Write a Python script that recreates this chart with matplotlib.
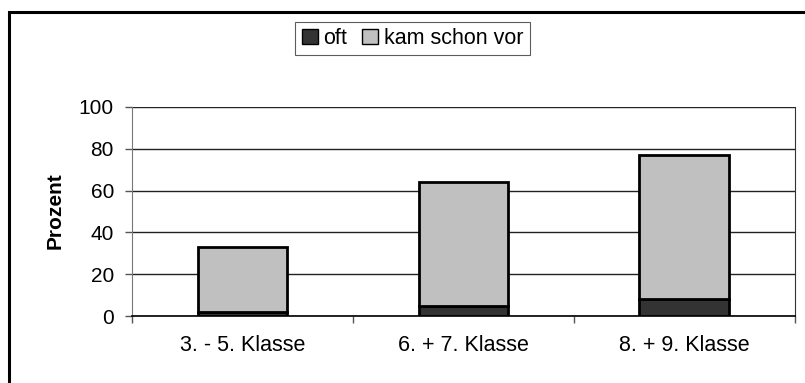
import matplotlib.pyplot as plt
from matplotlib.patches import Rectangle, Patch

plt.rcParams['font.family'] = ['Liberation Sans', 'DejaVu Sans']

categories = ['3. - 5. Klasse', '6. + 7. Klasse', '8. + 9. Klasse']
oft = [2, 5, 8]
kam_schon_vor = [31, 59, 69]
y_ticks = [0, 20, 40, 60, 80, 100]

W, H = 805, 383
FS = 15.5
fig = plt.figure(figsize=(W / 100, H / 100), dpi=100)
fig.patch.set_facecolor('white')

# plot area in pixel coordinates
left, right, top, bottom = 132, 794.5, 107, 316
ax = fig.add_axes([left / W, 1 - bottom / H, (right - left) / W, (bottom - top) / H])

x = range(len(categories))
bw = 0.405
ax.bar(x, oft, width=bw, color='#333333', edgecolor='black', linewidth=2, zorder=3)
ax.bar(x, kam_schon_vor, bottom=oft, width=bw, color='#c0c0c0', edgecolor='black',
       linewidth=2, zorder=3)

ax.set_xlim(-0.5, len(categories) - 0.5)
ax.set_ylim(0, 100)
ax.set_yticks(y_ticks)
ax.set_yticklabels([str(v) for v in y_ticks], fontsize=FS - 0.5)
ax.yaxis.grid(True, color='#222222', linewidth=1.0, zorder=0)

# category labels centred, ticks on category boundaries
ax.set_xticks(list(x))
ax.set_xticklabels(categories, fontsize=FS)
ax.tick_params(axis='x', length=0, pad=14)
ax.set_xticks([i + 0.5 for i in range(-1, len(categories))], minor=True)
ax.tick_params(axis='x', which='minor', length=5, width=1, color='#555555')
ax.tick_params(axis='y', length=5, width=1, color='#555555', pad=8)

ax.spines['top'].set_visible(False)
ax.spines['left'].set_color('#777777')
ax.spines['right'].set_color('#333333')
ax.spines['bottom'].set_color('black')
ax.spines['bottom'].set_linewidth(1.2)

fig.text(55 / W, 1 - 211 / H, 'Prozent', rotation=90, ha='center', va='center',
         fontsize=FS - 0.5, fontweight='bold')

handles = [Patch(facecolor='#333333', edgecolor='black', label='oft'),
           Patch(facecolor='#c0c0c0', edgecolor='black', label='kam schon vor')]
leg = fig.legend(handles=handles, loc='center', ncol=2, fontsize=FS,
                 bbox_to_anchor=(412.5 / W, 1 - 38.5 / H), frameon=True, fancybox=False,
                 handlelength=0.75, handleheight=0.75, handletextpad=0.25,
                 columnspacing=0.7, borderpad=0.3, borderaxespad=0)
leg.get_frame().set_edgecolor('#333333')
leg.get_frame().set_linewidth(0.8)

# outer chart frame, cut off at the right and bottom
fig.add_artist(Rectangle((9 / W, -0.1), 1.1, 1 - 12 / H + 0.1, transform=fig.transFigure,
                         fill=False, edgecolor='black', linewidth=2.2))

fig.savefig('out.png', dpi=100)
